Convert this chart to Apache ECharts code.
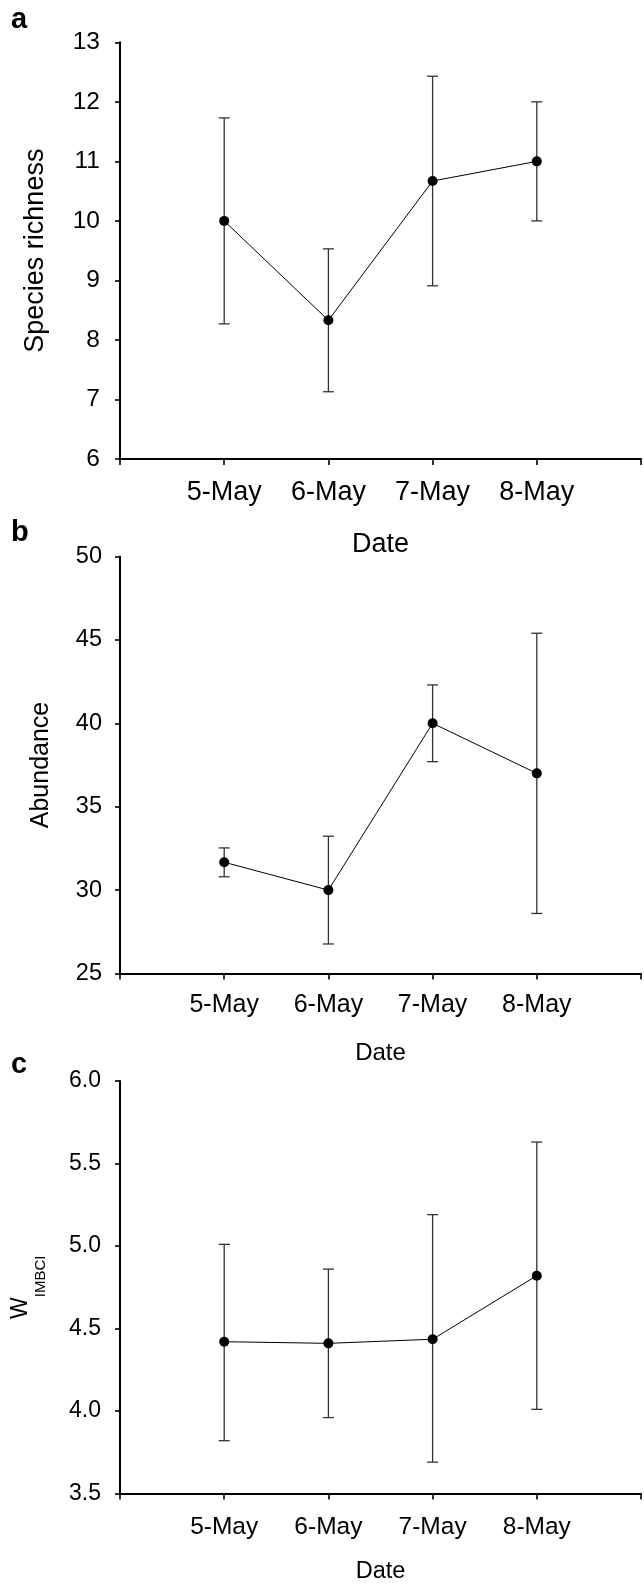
<!DOCTYPE html>
<html>
<head>
<meta charset="utf-8">
<style>
html,body{margin:0;padding:0;background:#fff;}
#chart{width:644px;height:1585px;}
</style>
<script src="https://cdn.jsdelivr.net/npm/echarts@6/dist/echarts.min.js"></script>
</head>
<body>
<div id="chart"></div>
<script>
// ---- data ----
var dates = ['5-May', '6-May', '7-May', '8-May'];
var datePos = [1, 2, 3, 4];

var richMean = [10, 8.33, 10.67, 11];
var richLow  = [8.27, 7.13, 8.91, 10];
var richHigh = [11.73, 9.53, 12.43, 12];

var abunMean = [31.67, 30, 40, 37];
var abunLow  = [30.8, 26.77, 37.7, 28.6];
var abunHigh = [32.53, 33.23, 42.3, 45.4];

var wMean = [4.42, 4.41, 4.435, 4.82];
var wLow  = [3.82, 3.96, 3.69, 4.01];
var wHigh = [5.01, 4.86, 5.19, 5.63];

var panelLabels = ['a', 'b', 'c'];
var yTicksA = {min: 6, max: 13, interval: 1};
var yTicksB = {min: 25, max: 50, interval: 5};
var yTicksC = {min: 3.5, max: 6, interval: 0.5};

// ---- build ----
var FONT = '"Liberation Sans", Arial, sans-serif';
var chart = echarts.init(document.getElementById('chart'), null, {renderer: 'canvas'});

function pts(mean) { return datePos.map(function (p, i) { return [p, mean[i]]; }); }
function bars(low, high) { return datePos.map(function (p, i) { return [p, low[i], high[i]]; }); }

function errRender(params, api) {
  var x = api.value(0);
  var lo = api.coord([x, api.value(1)]);
  var hi = api.coord([x, api.value(2)]);
  var w = 5.5;
  var st = {stroke: '#333', lineWidth: 1.3};
  return {
    type: 'group',
    children: [
      {type: 'line', shape: {x1: lo[0], y1: lo[1], x2: hi[0], y2: hi[1]}, style: st},
      {type: 'line', shape: {x1: lo[0] - w, y1: lo[1], x2: lo[0] + w, y2: lo[1]}, style: st},
      {type: 'line', shape: {x1: hi[0] - w, y1: hi[1], x2: hi[0] + w, y2: hi[1]}, style: st}
    ]
  };
}

var grids = [
  {left: 120, top: 42.3, width: 526, height: 416.7},
  {left: 120, top: 556.5, width: 526, height: 417},
  {left: 120, top: 1081, width: 526, height: 415.7}
];

function xAx(gi, labelSize, labelMargin, nameSize, nameGap) {
  return {
    type: 'value', gridIndex: gi, min: 0, max: 5, interval: 1,
    name: 'Date', nameLocation: 'middle', nameGap: nameGap,
    nameTextStyle: {fontFamily: FONT, fontSize: nameSize, color: '#000'},
    axisLine: {lineStyle: {color: '#000', width: 2}},
    axisTick: {show: true, length: 6, lineStyle: {color: '#000', width: 1.6}},
    splitLine: {show: false},
    axisLabel: {
      margin: labelMargin, fontFamily: FONT, fontSize: labelSize, color: '#000',
      formatter: function (v) { var i = datePos.indexOf(v); return i >= 0 ? dates[i] : ''; }
    }
  };
}

function yAx(gi, t, labelSize, labelMargin, name, nameGap, nameStyle, fmt) {
  return {
    type: 'value', gridIndex: gi, min: t.min, max: t.max, interval: t.interval,
    name: name, nameLocation: 'middle', nameGap: nameGap, nameRotate: 90,
    nameTextStyle: nameStyle,
    axisLine: {show: true, lineStyle: {color: '#000', width: 2}},
    axisTick: {show: true, length: 5, lineStyle: {color: '#000', width: 1.6}},
    splitLine: {show: false},
    axisLabel: {margin: labelMargin, fontFamily: FONT, fontSize: labelSize, color: '#000', formatter: fmt}
  };
}

function lineSeries(gi, mean) {
  return {
    type: 'line', xAxisIndex: gi, yAxisIndex: gi, data: pts(mean),
    symbol: 'circle', symbolSize: 10, z: 5,
    lineStyle: {color: '#000', width: 1},
    itemStyle: {color: '#000'},
    animation: false
  };
}
function errSeries(gi, lo, hi) {
  return {
    type: 'custom', xAxisIndex: gi, yAxisIndex: gi, data: bars(lo, hi),
    renderItem: errRender, z: 3, animation: false,
    encode: {x: 0, y: [1, 2]}
  };
}

function panelText(txt, y) {
  return {
    type: 'text', x: 11, y: y, silent: true,
    style: {text: txt, fontFamily: FONT, fontSize: 29, fontWeight: 'bold', fill: '#000', verticalAlign: 'middle', align: 'left'}
  };
}

var option = {
  backgroundColor: '#fff',
  animation: false,
  graphic: [panelText(panelLabels[0], 19.5), panelText(panelLabels[1], 533), panelText(panelLabels[2], 1064.5)],
  grid: grids,
  xAxis: [xAx(0, 27, 20, 27, 72), xAx(1, 25, 19, 24, 68), xAx(2, 24.5, 21.5, 23.5, 66.5)],
  yAxis: [
    yAx(0, yTicksA, 24.5, 20, 'Species richness', 71, {fontFamily: FONT, fontSize: 27, color: '#000'}),
    yAx(1, yTicksB, 23.5, 18, 'Abundance', 66, {fontFamily: FONT, fontSize: 25, color: '#000'}),
    yAx(2, yTicksC, 23, 19, 'W{sub|IMBCI}', 72, {
      fontFamily: FONT, fontSize: 23, color: '#000',
      rich: {sub: {fontFamily: FONT, fontSize: 15, color: '#000', padding: [40, 0, 0, 0]}}
    }, function (v) { return v.toFixed(1); })
  ],
  series: [
    errSeries(0, richLow, richHigh), lineSeries(0, richMean),
    errSeries(1, abunLow, abunHigh), lineSeries(1, abunMean),
    errSeries(2, wLow, wHigh), lineSeries(2, wMean)
  ]
};
chart.setOption(option);
</script>
</body>
</html>
